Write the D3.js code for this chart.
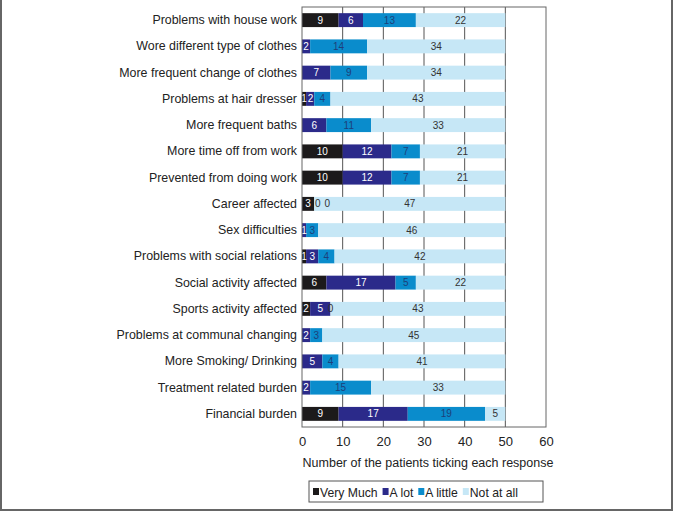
<!DOCTYPE html>
<html><head><meta charset="utf-8">
<script src="https://cdn.jsdelivr.net/npm/d3@7"></script>
<style>body{margin:0;background:#fff;}svg{display:block;font-family:"Liberation Sans",Arial,sans-serif;}</style>
</head><body>
<svg id="c" width="673" height="511"></svg>
<script>
const categories = ["Problems with house work","Wore different type of clothes","More frequent change of clothes","Problems at hair dresser","More frequent baths","More time off from work","Prevented from doing work","Career affected","Sex difficulties","Problems with social relations","Social activity affected","Sports activity affected","Problems at communal changing","More Smoking/ Drinking","Treatment related burden","Financial burden"];
const seriesNames = ["Very Much","A lot","A little","Not at all"];
const veryMuch = [9,null,null,1,null,10,10,3,null,1,6,2,null,null,null,9];
const aLot =     [6,2,7,2,6,12,12,0,1,3,17,5,2,5,2,17];
const aLittle =  [13,14,9,4,11,7,7,0,3,4,5,0,3,4,15,19];
const notAtAll = [22,34,34,43,33,21,21,47,46,42,22,43,45,41,33,5];
const xTicks = [0,10,20,30,40,50,60];
const colors = ["#1c1a1b","#2b2a8a","#0a8ccc","#c6e7f6"];
const labelColors = ["#ffffff","#ffffff","#1d3f7a","#333333"];

const svg = d3.select("#c");
const m = {l:302, r:546, t:7, b:427};
const x = d3.scaleLinear().domain([0,60]).range([m.l, m.r]);
const y = d3.scaleBand().domain(categories).range([m.t, m.b]).paddingInner(0.47).paddingOuter(0.235);
const series = [veryMuch,aLot,aLittle,notAtAll];

// outer border
svg.append("path").attr("d","M1,0V510H672V0").attr("fill","none").attr("stroke","#666").attr("stroke-width",2);

// gridlines
svg.append("g").selectAll("line").data(xTicks.slice(1,-1)).join("line")
  .attr("x1",d=>x(d)).attr("x2",d=>x(d)).attr("y1",m.t).attr("y2",m.b)
  .attr("stroke","#555").attr("stroke-width",1);

// bars
const barG = svg.append("g"), labG = svg.append("g");
categories.forEach((c,i)=>{
  let acc=0, prevRight=-1e9;
  series.forEach((s,k)=>{
    const v = s[i];
    const val = v==null?0:v;
    const x0 = x(acc), x1 = x(acc+val);
    if(val>0){
      barG.append("rect").attr("x",x0).attr("y",y(c)).attr("width",x1-x0).attr("height",y.bandwidth()).attr("fill",colors[k]);
    }
    if(v!=null){
      const t = labG.append("text").attr("y",y(c)+y.bandwidth()/2).attr("dy","0.36em")
        .attr("text-anchor","middle").attr("font-size",10).attr("fill", val>0?labelColors[k]:"#333").text(v);
      const w = t.node().getComputedTextLength();
      let cx = (x0+x1)/2;
      if(cx - w/2 < prevRight + 1) cx = prevRight + 1 + w/2 + (val>0?0:3);
      t.attr("x",cx);
      prevRight = cx + w/2;
    }
    acc+=val;
  });
});

// frame
svg.append("rect").attr("x",m.l).attr("y",m.t).attr("width",m.r-m.l).attr("height",m.b-m.t)
  .attr("fill","none").attr("stroke","#666").attr("stroke-width",1);

// x axis
const xa = svg.append("g").attr("transform",`translate(0,${m.b})`).call(d3.axisBottom(x).tickValues(xTicks).tickSize(0).tickPadding(10));
xa.select(".domain").remove();
xa.selectAll("text").attr("font-size",13).attr("fill","#222").attr("font-family","Liberation Sans,Arial,sans-serif");

// y axis
const ya = svg.append("g").attr("transform",`translate(${m.l},0)`).call(d3.axisLeft(y).tickSize(0).tickPadding(5));
ya.select(".domain").remove();
ya.selectAll("text").attr("font-size",12.4).attr("fill","#222").attr("font-family","Liberation Sans,Arial,sans-serif");

svg.append("text").attr("x",(m.l+m.r)/2+4).attr("y",467).attr("text-anchor","middle").attr("font-size",12.5).attr("fill","#222").text("Number of the patients ticking each response");

// legend
const lg = svg.append("g");
lg.append("rect").attr("x",309).attr("y",481).attr("width",234).attr("height",21).attr("fill","none").attr("stroke","#555");
let lx = 313;
seriesNames.forEach((n,k)=>{
  lg.append("rect").attr("x",lx).attr("y",488).attr("width",6).attr("height",7).attr("fill",colors[k]);
  const t = lg.append("text").attr("x",lx+7).attr("y",497).attr("font-size",12.2).attr("fill","#222").text(n);
  lx += 7 + t.node().getComputedTextLength() + 5;
});
</script>
</body></html>
